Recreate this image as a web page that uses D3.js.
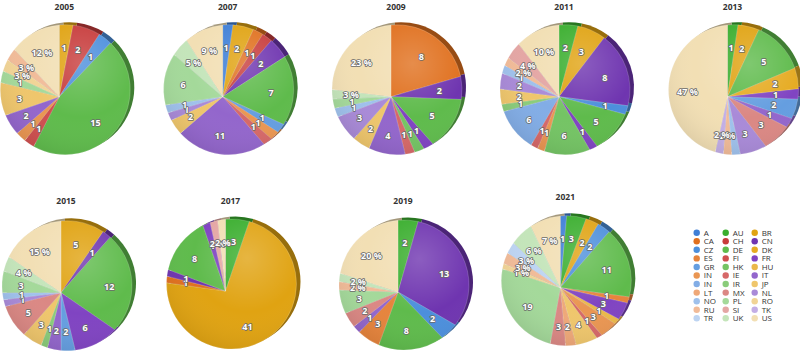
<!DOCTYPE html>
<html><head><meta charset="utf-8">
<script src="https://cdn.jsdelivr.net/npm/d3@7"></script>
<style>body{margin:0;background:#fff}svg{display:block}</style>
</head><body><svg id="chart" width="800" height="352"></svg>
<script>
// ---- data ----
const countries = ["A","AU","BR","CA","CH","CN","CZ","DE","DK","ES","FI","FR","GR","HK","HU","IN","IE","IT","IN","IR","JP","LT","MX","NL","NO","PL","RO","RU","SI","TK","TR","UK","US"];
const colors = ["#3f7fd6","#3aae2e","#e0a312","#e0701e","#c73b3b","#6f35b0","#4c8fdc","#5fbb4c","#e6ab22","#e6843c","#cf4f4f","#8044c2","#659ee0","#74c464","#ebb84a","#ea9652","#d66868","#9366cc","#82ade6","#8acc7a","#efc66c","#efa878","#db8884","#a98ad8","#9fc1ec","#a4d99a","#f1d496","#f1bb98","#e4a6a4","#c3aee6","#bdd4f2","#c4e5ba","#f2dfb4"];
const percentFrom = 26; // series from RO onward are labelled as percentages
const years = ["2005","2007","2009","2011","2013","2015","2017","2019","2021"];
const values2005 = [0,0,1,0,2,0,1,15,0,0,1,0,0,0,0,1,0,2,0,0,3,0,0,0,0,1,1,1,0,0,0,0,4];
const values2007 = [1,0,2,1,1,2,0,7,0,0,0,0,1,0,0,1,1,11,0,0,2,0,0,1,1,6,0,0,0,0,0,2,4];
const values2009 = [0,0,0,8,0,2,0,5,0,0,0,1,0,1,0,0,1,4,0,0,2,0,0,3,1,1,0,0,0,0,0,1,9];
const values2011 = [0,2,3,0,0,8,1,5,0,0,0,1,0,6,0,1,1,0,6,1,2,0,0,2,1,0,0,1,2,0,0,0,5];
const values2013 = [0,1,2,0,0,0,0,5,2,0,0,1,2,0,0,0,0,1,0,0,0,0,3,3,1,0,0,1,0,1,0,0,20];
const values2015 = [0,0,5,0,0,1,0,12,0,0,0,6,2,0,0,0,0,2,0,1,3,0,5,1,1,3,0,0,0,0,0,2,8];
const values2017 = [0,3,41,1,0,1,0,8,0,0,0,1,0,0,0,0,0,0,0,0,0,0,0,0,0,0,0,0,1,0,0,0,1];
const values2019 = [0,2,0,0,0,13,2,8,0,3,0,0,0,0,0,0,0,1,0,0,0,0,2,0,0,3,0,1,0,0,0,1,9];
const values2021 = [1,3,2,0,0,0,2,11,0,1,0,3,0,0,1,3,1,0,0,0,4,2,3,0,0,19,1,2,0,0,2,4,5];
const yearValues = [values2005,values2007,values2009,values2011,values2013,values2015,values2017,values2019,values2021];

// ---- layout (positions only) ----
const layout = [
  {cx:65.3, cy:89.7, ty:9.5},{cx:228.7, cy:89.7, ty:9.5},{cx:397, cy:89.7, ty:9.5},{cx:565, cy:89.7, ty:9.5},{cx:733.5, cy:89.7, ty:9.5},
  {cx:67, cy:285.7, ty:204},{cx:231.5, cy:284, ty:204},{cx:404, cy:285, ty:204},{cx:566.3, cy:280.7, ty:199.5}
];
const R = 65, apexDx = -6, apexDy = 7;

const svg = d3.select("#chart");
const defs = svg.append("defs");
const gl = defs.append("radialGradient").attr("id","gloss").attr("cx","0.62").attr("cy","0.3").attr("r","0.75");
gl.append("stop").attr("offset","0").attr("stop-color","#fff").attr("stop-opacity",0.2);
gl.append("stop").attr("offset","0.55").attr("stop-color","#fff").attr("stop-opacity",0);
gl.append("stop").attr("offset","1").attr("stop-color","#000").attr("stop-opacity",0.08);

const pie = d3.pie().sort(null).value(d => d);

function rayHit(P, C, a) {
  const dx = Math.sin(a), dy = -Math.cos(a);
  const wx = P[0]-C[0], wy = P[1]-C[1];
  const b = wx*dx + wy*dy;
  const t = -b + Math.sqrt(b*b - (wx*wx + wy*wy - R*R));
  return {t, x: P[0]+t*dx, y: P[1]+t*dy, dx, dy};
}
function slicePath(P, C, a0, a1) {
  const p0 = rayHit(P, C, a0), p1 = rayHit(P, C, a1);
  let f0 = Math.atan2(p0.y-C[1], p0.x-C[0]);
  let f1 = Math.atan2(p1.y-C[1], p1.x-C[0]);
  while (f1 < f0) f1 += 2*Math.PI;
  const p = d3.path();
  p.moveTo(P[0], P[1]);
  p.lineTo(p0.x, p0.y);
  p.arc(C[0], C[1], R, f0, f1, false);
  p.closePath();
  return p.toString();
}

years.forEach((yr, k) => {
  const L = layout[k];
  const vals = yearValues[k];
  const total = d3.sum(vals);
  const C = [L.cx, L.cy], P = [L.cx+apexDx, L.cy+apexDy];
  const arcs = pie(vals).filter(d => d.value > 0);
  const g = svg.append("g");

  // 3D side (shifted, darker copy)
  const side = g.append("g").attr("transform","translate(4,-2.5)");
  side.selectAll("path").data(arcs).join("path")
    .attr("d", d => slicePath(P, C, d.startAngle, d.endAngle))
    .attr("fill", d => d3.color(colors[d.index]).darker(1.1));

  g.append("g").selectAll("path").data(arcs).join("path")
    .attr("d", d => slicePath(P, C, d.startAngle, d.endAngle))
    .attr("fill", d => colors[d.index])
    .attr("stroke", "rgba(255,255,255,0.35)").attr("stroke-width", 0.5);

  g.append("circle").attr("cx", C[0]).attr("cy", C[1]).attr("r", R)
    .attr("fill","url(#gloss)").attr("pointer-events","none");

  g.append("g").selectAll("text").data(arcs).join("text")
    .attr("x", d => { const m=(d.startAngle+d.endAngle)/2, h=rayHit(P,C,m); return P[0]+h.dx*h.t*0.68; })
    .attr("y", d => { const m=(d.startAngle+d.endAngle)/2, h=rayHit(P,C,m); return P[1]+h.dy*h.t*0.68; })
    .attr("dy","0.35em").attr("text-anchor","middle")
    .attr("font-family","'Open Sans', 'Noto Sans', sans-serif").attr("font-size", 9).attr("font-weight", 700)
    .attr("fill","#fff").attr("stroke","#6a6a6a").attr("stroke-width",1.6).attr("paint-order","stroke")
    .attr("stroke-linejoin","round")
    .text(d => d.index >= percentFrom ? Math.round(d.value/total*100) + " %" : d.value);

  svg.append("text").attr("x", L.cx - 1).attr("y", L.ty)
    .attr("text-anchor","middle").attr("font-family","'Open Sans', 'Noto Sans', sans-serif")
    .attr("font-size", 8.5).attr("font-weight", 700).attr("fill","#333").text(yr);
});

// legend: 3 columns, row-major order
const leg = svg.append("g").attr("font-family","'Open Sans', 'Noto Sans', sans-serif").attr("font-size", 8).attr("fill","#333");
const item = leg.selectAll("g").data(countries).join("g")
  .attr("transform", (d,i) => `translate(${696.7 + (i%3)*29},${232.7 + Math.floor(i/3)*8.56})`);
item.append("circle").attr("r", 3.2).attr("fill", (d,i) => colors[i]);
item.append("text").attr("x", 7).attr("y", 2.9).text(d => d);
</script>
</body></html>
